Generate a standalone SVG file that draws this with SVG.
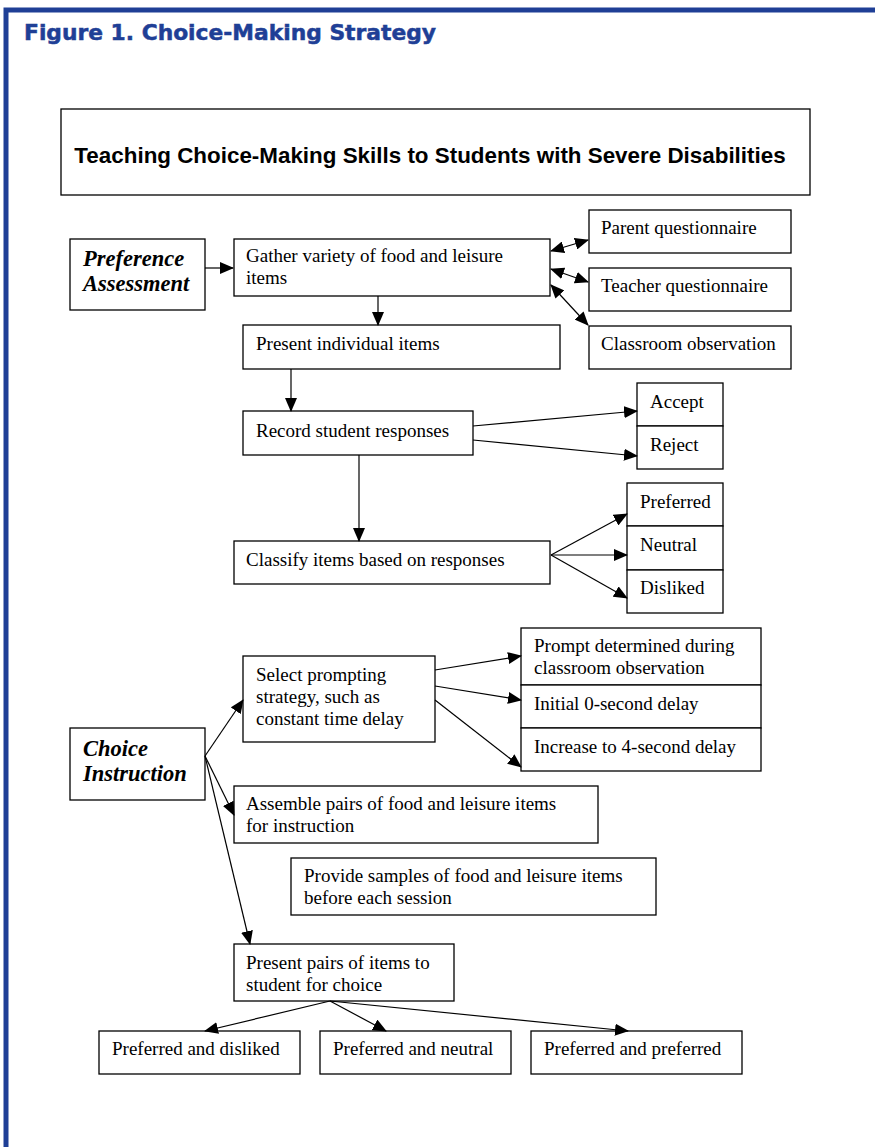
<svg xmlns="http://www.w3.org/2000/svg" width="875" height="1147" viewBox="0 0 875 1147">
<style>
.b{fill:#fff;stroke:#000;stroke-width:1.3}
.t{font-family:"Liberation Serif",serif;font-size:19px;fill:#000}
.h{font-family:"Liberation Serif",serif;font-size:22.5px;font-weight:bold;font-style:italic;fill:#000}
.c line{stroke:#000;stroke-width:1.2}
</style>
<defs>
<marker id="a" markerWidth="14" markerHeight="12" refX="13" refY="6" orient="auto" markerUnits="userSpaceOnUse"><path d="M0,0 L14,6 L0,12 Z" fill="#000"/></marker>
<marker id="s" markerWidth="14" markerHeight="12" refX="1" refY="6" orient="auto" markerUnits="userSpaceOnUse"><path d="M14,0 L0,6 L14,12 Z" fill="#000"/></marker>
</defs>
<rect x="0" y="0" width="875" height="1147" fill="#fff"/>
<path d="M6,1147 V10 H875" fill="none" stroke="#1f3f96" stroke-width="5"/>
<text x="24" y="40" font-family="'DejaVu Sans',sans-serif" font-weight="bold" font-size="21" fill="#1f3f96" stroke="#1f3f96" stroke-width="0.5" textLength="412" lengthAdjust="spacingAndGlyphs">Figure 1. Choice-Making Strategy</text>

<g id="title"><rect class="b" x="61" y="109" width="749" height="86"/><text x="430" y="163" text-anchor="middle" font-family="'Liberation Sans',sans-serif" font-weight="bold" font-size="22.4">Teaching Choice-Making Skills to Students with Severe Disabilities</text></g>

<g id="pref"><rect class="b" x="70" y="239" width="135" height="71"/><text class="h" x="83" y="266">Preference</text><text class="h" x="83" y="291">Assessment</text></g>
<g id="gather"><rect class="b" x="234" y="239" width="316" height="57"/><text class="t" x="246" y="262">Gather variety of food and leisure</text><text class="t" x="246" y="284">items</text></g>
<g id="parent"><rect class="b" x="589" y="210" width="202" height="43"/><text class="t" x="601" y="234">Parent questionnaire</text></g>
<g id="teacher"><rect class="b" x="589" y="268" width="202" height="43"/><text class="t" x="601" y="292">Teacher questionnaire</text></g>
<g id="classobs"><rect class="b" x="589" y="326" width="202" height="43"/><text class="t" x="601" y="350">Classroom observation</text></g>
<g id="present"><rect class="b" x="243" y="325" width="317" height="44"/><text class="t" x="256" y="350">Present individual items</text></g>
<g id="record"><rect class="b" x="243" y="411" width="230" height="44"/><text class="t" x="256" y="437">Record student responses</text></g>
<g id="accept"><rect class="b" x="637" y="383" width="86" height="43"/><text class="t" x="650" y="408">Accept</text></g>
<g id="reject"><rect class="b" x="637" y="426" width="86" height="43"/><text class="t" x="650" y="451">Reject</text></g>
<g id="classify"><rect class="b" x="234" y="541" width="316" height="43"/><text class="t" x="246" y="566">Classify items based on responses</text></g>
<g id="preferred"><rect class="b" x="627" y="483" width="96" height="43"/><text class="t" x="640" y="508">Preferred</text></g>
<g id="neutral"><rect class="b" x="627" y="526" width="96" height="44"/><text class="t" x="640" y="551">Neutral</text></g>
<g id="disliked"><rect class="b" x="627" y="570" width="96" height="43"/><text class="t" x="640" y="594">Disliked</text></g>

<g id="choice"><rect class="b" x="70" y="728" width="135" height="72"/><text class="h" x="83" y="756">Choice</text><text class="h" x="83" y="781">Instruction</text></g>
<g id="select"><rect class="b" x="243" y="656" width="192" height="86"/><text class="t" x="256" y="681">Select prompting</text><text class="t" x="256" y="703">strategy, such as</text><text class="t" x="256" y="725">constant time delay</text></g>
<g id="prompt"><rect class="b" x="521" y="628" width="240" height="57"/><text class="t" x="534" y="652">Prompt determined during</text><text class="t" x="534" y="674">classroom observation</text></g>
<g id="initial"><rect class="b" x="521" y="685" width="240" height="43"/><text class="t" x="534" y="710">Initial 0-second delay</text></g>
<g id="increase"><rect class="b" x="521" y="728" width="240" height="43"/><text class="t" x="534" y="753">Increase to 4-second delay</text></g>
<g id="assemble"><rect class="b" x="234" y="786" width="364" height="57"/><text class="t" x="246" y="810">Assemble pairs of food and leisure items</text><text class="t" x="246" y="832">for instruction</text></g>
<g id="provide"><rect class="b" x="291" y="858" width="365" height="57"/><text class="t" x="304" y="882">Provide samples of food and leisure items</text><text class="t" x="304" y="904">before each session</text></g>
<g id="pairs"><rect class="b" x="234" y="944" width="220" height="57"/><text class="t" x="246" y="969">Present pairs of items to</text><text class="t" x="246" y="991">student for choice</text></g>
<g id="pd"><rect class="b" x="99" y="1031" width="201" height="43"/><text class="t" x="112" y="1055">Preferred and disliked</text></g>
<g id="pn"><rect class="b" x="320" y="1031" width="191" height="43"/><text class="t" x="333" y="1055">Preferred and neutral</text></g>
<g id="pp"><rect class="b" x="531" y="1031" width="211" height="43"/><text class="t" x="544" y="1055">Preferred and preferred</text></g>

<g id="connectors" class="c">
<line x1="205" y1="268" x2="233" y2="268" marker-end="url(#a)"/>
<line x1="551" y1="251" x2="588" y2="240" marker-start="url(#s)" marker-end="url(#a)"/>
<line x1="551" y1="269" x2="588" y2="282" marker-start="url(#s)" marker-end="url(#a)"/>
<line x1="551" y1="285" x2="588" y2="325" marker-start="url(#s)" marker-end="url(#a)"/>
<line x1="378" y1="296" x2="378" y2="325" marker-end="url(#a)"/>
<line x1="291" y1="369" x2="291" y2="411" marker-end="url(#a)"/>
<line x1="473" y1="426" x2="637" y2="411" marker-end="url(#a)"/>
<line x1="473" y1="440" x2="637" y2="456" marker-end="url(#a)"/>
<line x1="359" y1="455" x2="359" y2="541" marker-end="url(#a)"/>
<line x1="551" y1="555" x2="627" y2="514" marker-end="url(#a)"/>
<line x1="551" y1="555" x2="627" y2="555" marker-end="url(#a)"/>
<line x1="551" y1="555" x2="627" y2="598" marker-end="url(#a)"/>
<line x1="205" y1="756" x2="243" y2="700" marker-end="url(#a)"/>
<line x1="205" y1="756" x2="234" y2="815" marker-end="url(#a)"/>
<line x1="205" y1="756" x2="250" y2="944" marker-end="url(#a)"/>
<line x1="435" y1="670" x2="521" y2="656" marker-end="url(#a)"/>
<line x1="435" y1="686" x2="521" y2="700" marker-end="url(#a)"/>
<line x1="435" y1="700" x2="521" y2="767" marker-end="url(#a)"/>
<line x1="330" y1="1001" x2="205" y2="1031" marker-end="url(#a)"/>
<line x1="330" y1="1001" x2="386" y2="1031" marker-end="url(#a)"/>
<line x1="330" y1="1001" x2="628" y2="1031" marker-end="url(#a)"/>
</g>
</svg>
